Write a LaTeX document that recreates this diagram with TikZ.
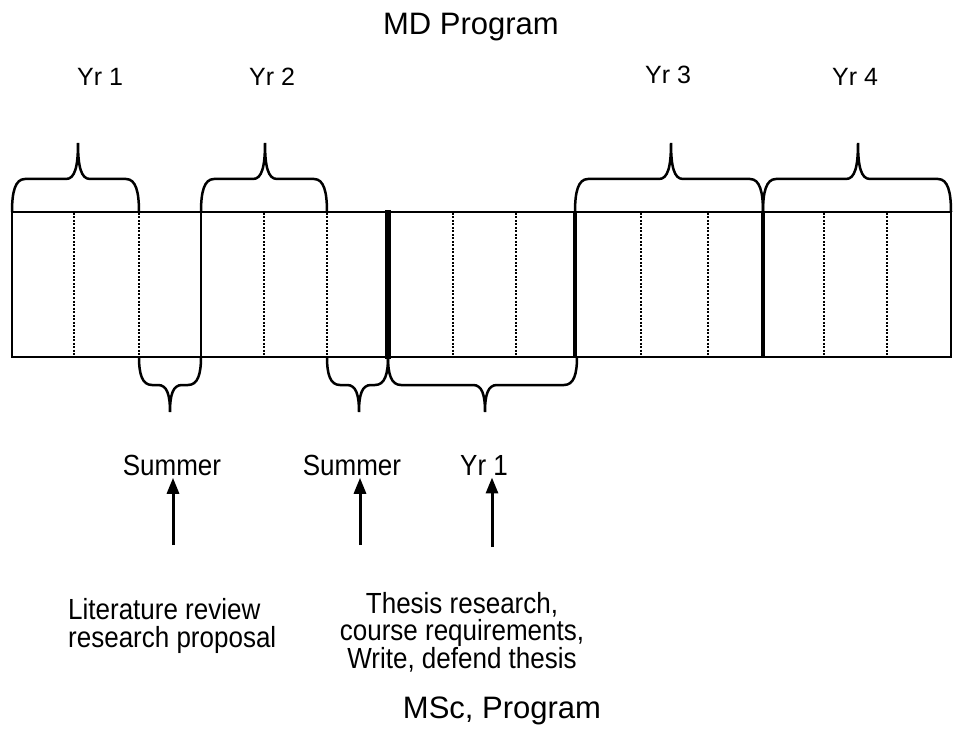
\documentclass[tikz,border=0pt]{standalone}
\usepackage{fontspec}
\setmainfont{Liberation Sans}
\usetikzlibrary{arrows.meta}

% Accolade : #1=xmin, #2=xmax, #3=x pointe, #4=y base, #5=hauteur plate, #6=hauteur pointe
\newcommand{\accolade}[6]{
    \draw[line width=2.5pt]
        (#1,#4) .. controls (#1,{#4-0.6*(#5)}) and ({#1+3},{#4-(#5)}) .. ({#1+13},{#4-(#5)})
        -- ({#3-12},{#4-(#5)})
        .. controls ({#3-3},{#4-(#5)}) and (#3,{#4-(#5)-0.35*((#6)-(#5))}) .. (#3,{#4-(#6)})
        .. controls (#3,{#4-(#5)-0.35*((#6)-(#5))}) and ({#3+3},{#4-(#5)}) .. ({#3+12},{#4-(#5)})
        -- ({#2-13},{#4-(#5)})
        .. controls ({#2-3},{#4-(#5)}) and (#2,{#4-0.6*(#5)}) .. (#2,#4);
}

\tikzset{
    titre/.style={font=\fontsize{31}{37}\selectfont, inner sep=2pt},
    annee/.style={font=\fontsize{25}{30}\selectfont, inner sep=2pt},
    etiq/.style={font=\fontsize{26}{24.5}\selectfont, yscale=1.12, inner sep=2pt},
    pointille/.style={line width=2.5pt, dash pattern=on 2pt off 1.5pt},
    fleche/.style={line width=3pt, -{Triangle[length=16pt,width=12pt]}}
}

\begin{document}
\begin{tikzpicture}[x=1pt, y=-1pt]

    \useasboundingbox (0,0) rectangle (959,730);

    % Titres
    \node[titre] (mdprog) at (471,27) {MD Program};
    \node[titre] (mscprog) at (502,711) {MSc, Program};

    % Annees du programme MD
    \node[annee] (yrone) at (100,77) {Yr 1};
    \node[annee] (yrtwo) at (272,77) {Yr 2};
    \node[annee] (yrthree) at (668,75) {Yr 3};
    \node[annee] (yrfour) at (855,77) {Yr 4};

    % Rectangle principal
    \draw[line width=2.5pt] (12,212) rectangle (951,357);
    \draw[line width=2.5pt] (201,212) -- (201,357);
    \draw[line width=5.5pt] (388,210) -- (388,359);
    \draw[line width=3.5pt] (575,211) -- (575,358);
    \draw[line width=3.5pt] (763,211) -- (763,358);
    \foreach \x in {74,139,264,327,453,516,641,708,824,887}
        \draw[pointille] (\x,213) -- (\x,356);

    % Accolades du haut
    \accolade{12}{139}{78}{212}{33}{69}
    \accolade{201}{327}{265}{212}{33}{69}
    \accolade{575}{763}{671}{212}{33}{69}
    \accolade{763}{951}{858}{212}{33}{69}

    % Accolades du bas
    \accolade{139}{201}{170}{357}{-28}{-55}
    \accolade{327}{388}{359}{357}{-28}{-55}
    \accolade{388}{577}{485}{357}{-28}{-55}

    % Etiquettes du bas
    \node[etiq] (sumone) at (172,465) {Summer};
    \node[etiq] (sumtwo) at (352,465) {Summer};
    \node[etiq] (mscyr) at (484,465) {Yr 1};
    \node[etiq, anchor=west, align=left] (litrev) at (66,626) {Literature review\\research proposal};
    \node[etiq, align=center] (thesis) at (462,632) {Thesis research,\\course requirements,\\Write, defend thesis};

    % Fleches
    \coordinate (flA) at (173,545);
    \coordinate (flB) at (360,545);
    \coordinate (flC) at (492,547);
    \draw[fleche] (flA) -- (flA |- sumone.south);
    \draw[fleche] (flB) -- (flB |- sumtwo.south);
    \draw[fleche] (flC) -- (flC |- mscyr.south);

\end{tikzpicture}
\end{document}
